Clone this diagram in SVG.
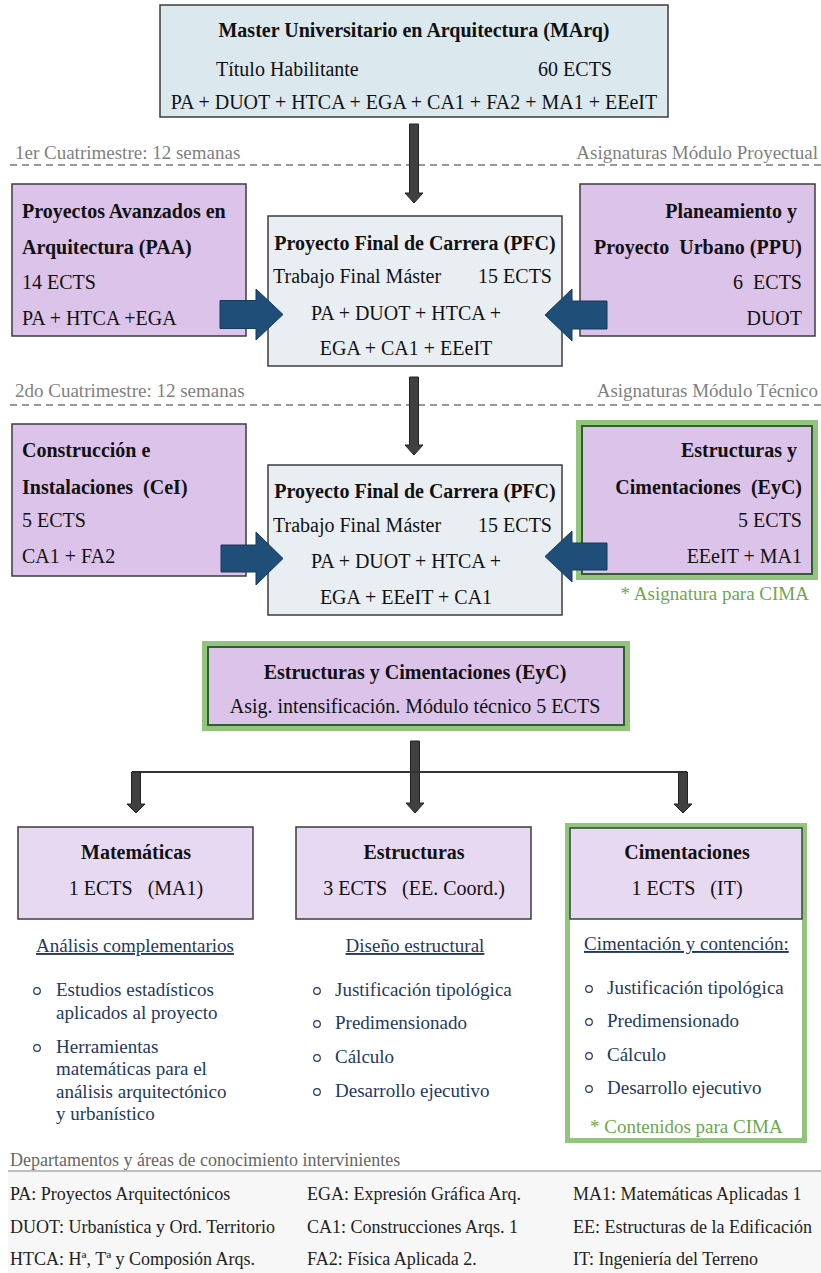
<svg xmlns="http://www.w3.org/2000/svg" width="821" height="1273" viewBox="0 0 821 1273" xml:space="preserve">
<defs>
<style>
text{font-family:"Liberation Serif","Times New Roman",serif;fill:#111;white-space:pre}
.t{font-size:20px}
.b{font-size:20px;font-weight:bold}
.l{font-size:19px;fill:#1f3864}
.u{text-decoration:underline}
.g{font-size:19px;fill:#6aa84f}
.gray{font-size:19px;fill:#7f7f7f}
.lg{font-size:18px;fill:#222}
.m{text-anchor:middle}
.e{text-anchor:end}
.box{stroke:#3c3c3c;stroke-width:1.5}
.purple{fill:#dcc3ea}
.lpurple{fill:#e7d9f1}
.pfc{fill:#e9eef2}
.top{fill:#dbe8ee}
.gout{fill:#93c47d}
.gin{stroke:#2f5e2f;stroke-width:2}
.dash{stroke:#999;stroke-width:2;stroke-dasharray:7 5;fill:none}
.darr{fill:#404040;stroke:#222;stroke-width:1}
.barr{fill:#1f4e79;stroke:#17395a;stroke-width:1}
.bul{fill:none;stroke:#1f3864;stroke-width:1.2}
</style>
</defs>
<rect width="821" height="1273" fill="#fff"/>
<g id="separators">
<line class="dash" x1="10" y1="165" x2="821" y2="165"/>
<text class="gray" x="15" y="159">1er Cuatrimestre: 12 semanas</text>
<text class="gray e" x="818" y="159">Asignaturas Módulo Proyectual</text>
<line class="dash" x1="10" y1="405" x2="821" y2="405"/>
<text class="gray" x="15" y="397">2do Cuatrimestre: 12 semanas</text>
<text class="gray e" x="818" y="397">Asignaturas Módulo Técnico</text>
</g>
<g id="marq">
<rect class="box top" x="160" y="5" width="508" height="112"/>
<text class="b m" x="414" y="37">Master Universitario en Arquitectura (MArq)</text>
<text class="t" x="216" y="76">Título Habilitante</text>
<text class="t e" x="612" y="76">60 ECTS</text>
<text class="t m" x="414" y="109">PA + DUOT + HTCA + EGA + CA1 + FA2 + MA1 + EEeIT</text>
</g>
<g id="paa">
<rect class="box purple" x="12" y="184" width="234" height="152"/>
<text class="b" x="22" y="218">Proyectos Avanzados en</text>
<text class="b" x="22" y="254">Arquitectura (PAA)</text>
<text class="t" x="22" y="289">14 ECTS</text>
<text class="t" x="22" y="325">PA + HTCA +EGA</text>
</g>
<g id="pfc1">
<rect class="box pfc" x="268" y="216" width="294" height="150"/>
<text class="b m" x="415" y="250">Proyecto Final de Carrera (PFC)</text>
<text class="t" x="273" y="283">Trabajo Final Máster</text>
<text class="t e" x="552" y="283">15 ECTS</text>
<text class="t m" x="406" y="320">PA + DUOT + HTCA +</text>
<text class="t m" x="406" y="355">EGA + CA1 + EEeIT</text>
</g>
<g id="ppu">
<rect class="box purple" x="580" y="184" width="235" height="152"/>
<text class="b e" x="802" y="218">Planeamiento y </text>
<text class="b e" x="802" y="254">Proyecto  Urbano (PPU)</text>
<text class="t e" x="802" y="289">6  ECTS</text>
<text class="t e" x="802" y="325">DUOT</text>
</g>
<g id="cei">
<rect class="box purple" x="12" y="424" width="234" height="152"/>
<text class="b" x="22" y="457">Construcción e</text>
<text class="b" x="22" y="494">Instalaciones  (CeI)</text>
<text class="t" x="22" y="527">5 ECTS</text>
<text class="t" x="22" y="563">CA1 + FA2</text>
</g>
<g id="pfc2">
<rect class="box pfc" x="268" y="465" width="294" height="150"/>
<text class="b m" x="415" y="498">Proyecto Final de Carrera (PFC)</text>
<text class="t" x="273" y="532">Trabajo Final Máster</text>
<text class="t e" x="552" y="532">15 ECTS</text>
<text class="t m" x="406" y="568">PA + DUOT + HTCA +</text>
<text class="t m" x="406" y="604">EGA + EEeIT + CA1</text>
</g>
<g id="eyc1">
<rect class="gout" x="576" y="420" width="242" height="160"/>
<rect class="gin purple" x="582" y="426" width="230" height="148"/>
<text class="b e" x="802" y="457">Estructuras y </text>
<text class="b e" x="802" y="494">Cimentaciones  (EyC)</text>
<text class="t e" x="802" y="527">5 ECTS</text>
<text class="t e" x="802" y="563">EEeIT + MA1</text>
<text class="g e" x="809" y="600">* Asignatura para CIMA</text>
</g>
<g id="eyc2">
<rect class="gout" x="202" y="641" width="428" height="90"/>
<rect class="gin purple" x="208" y="647" width="416" height="78"/>
<text class="b m" x="415" y="679">Estructuras y Cimentaciones (EyC)</text>
<text class="t m" x="415" y="713">Asig. intensificación. Módulo técnico 5 ECTS</text>
</g>
<g id="matematicas">
<rect class="box lpurple" x="18" y="827" width="235" height="92"/>
<text class="b m" x="136" y="859">Matemáticas</text>
<text class="t m" x="136" y="895">1 ECTS   (MA1)</text>
<text class="l m u" x="135" y="952">Análisis complementarios</text>
<circle class="bul" cx="37" cy="991" r="3.3"/>
<text class="l" x="56" y="996">Estudios estadísticos</text>
<text class="l" x="56" y="1019">aplicados al proyecto</text>
<circle class="bul" cx="37" cy="1048" r="3.3"/>
<text class="l" x="56" y="1053">Herramientas</text>
<text class="l" x="56" y="1075">matemáticas para el</text>
<text class="l" x="56" y="1098">análisis arquitectónico</text>
<text class="l" x="56" y="1120">y urbanístico</text>
</g>
<g id="estructuras">
<rect class="box lpurple" x="296" y="827" width="235" height="92"/>
<text class="b m" x="414" y="859">Estructuras</text>
<text class="t m" x="414" y="895">3 ECTS   (EE. Coord.)</text>
<text class="l m u" x="415" y="952">Diseño estructural</text>
<circle class="bul" cx="317" cy="991" r="3.3"/>
<text class="l" x="335" y="996">Justificación tipológica</text>
<circle class="bul" cx="317" cy="1024" r="3.3"/>
<text class="l" x="335" y="1029">Predimensionado</text>
<circle class="bul" cx="317" cy="1058" r="3.3"/>
<text class="l" x="335" y="1063">Cálculo</text>
<circle class="bul" cx="317" cy="1092" r="3.3"/>
<text class="l" x="335" y="1097">Desarrollo ejecutivo</text>
</g>
<g id="cimentaciones">
<rect x="567.5" y="825.5" width="237" height="315" fill="#fff" stroke="#93c47d" stroke-width="5"/>
<rect x="570" y="828" width="232" height="91" fill="#e7d9f1" stroke="#2f4a2f" stroke-width="1.5"/>
<text class="b m" x="687" y="859">Cimentaciones</text>
<text class="t m" x="687" y="895">1 ECTS   (IT)</text>
<text class="l u" x="584" y="950">Cimentación y contención:</text>
<circle class="bul" cx="589" cy="989" r="3.3"/>
<text class="l" x="607" y="994">Justificación tipológica</text>
<circle class="bul" cx="589" cy="1022" r="3.3"/>
<text class="l" x="607" y="1027">Predimensionado</text>
<circle class="bul" cx="589" cy="1056" r="3.3"/>
<text class="l" x="607" y="1061">Cálculo</text>
<circle class="bul" cx="589" cy="1089" r="3.3"/>
<text class="l" x="607" y="1094">Desarrollo ejecutivo</text>
<text class="g" x="590" y="1133">* Contenidos para CIMA</text>
</g>
<g id="connectors">
<path class="darr" d="M409.5,124 H418.5 V193 H423 L414,203 L405,193 H409.5 Z"/>
<path class="darr" d="M409.5,377 H418.5 V445 H423 L414,455 L405,445 H409.5 Z"/>
<path class="darr" d="M410.5,741 H419.5 V803 H424 L415,813 L406,803 H410.5 Z"/>
<line x1="132" y1="772" x2="687" y2="772" stroke="#333" stroke-width="2"/>
<path class="darr" d="M131.5,772 H140.5 V804 H145 L136,813 L127,804 H131.5 Z"/>
<path class="darr" d="M678.5,772 H687.5 V804 H692 L683,813 L674,804 H678.5 Z"/>
<path class="barr" d="M220,300.5 H256 V289 L283,314.5 L256,340 V328.5 H220 Z"/>
<path class="barr" d="M607,301 H572 V289 L545,315 L572,341 V329 H607 Z"/>
<path class="barr" d="M221,545 H256 V532 L283,558.5 L256,585 V572 H221 Z"/>
<path class="barr" d="M607,543 H572 V531 L545,556.5 L572,582 V570 H607 Z"/>
</g>
<g id="legend">
<rect x="8" y="1172" width="813" height="101" fill="#f7f7f7"/>
<line x1="8" y1="1171" x2="821" y2="1171" stroke="#bdbdbd" stroke-width="2"/>
<text class="lg" x="10" y="1166" style="fill:#666">Departamentos y áreas de conocimiento intervinientes</text>
<text class="lg" x="10" y="1200">PA: Proyectos Arquitectónicos</text>
<text class="lg" x="10" y="1233">DUOT: Urbanística y Ord. Territorio</text>
<text class="lg" x="10" y="1265">HTCA: Hª, Tª y Composión Arqs.</text>
<text class="lg" x="307" y="1200">EGA: Expresión Gráfica Arq.</text>
<text class="lg" x="307" y="1233">CA1: Construcciones Arqs. 1</text>
<text class="lg" x="307" y="1265">FA2: Física Aplicada 2.</text>
<text class="lg" x="573" y="1200">MA1: Matemáticas Aplicadas 1</text>
<text class="lg" x="573" y="1233">EE: Estructuras de la Edificación</text>
<text class="lg" x="573" y="1265">IT: Ingeniería del Terreno</text>
</g>
</svg>
